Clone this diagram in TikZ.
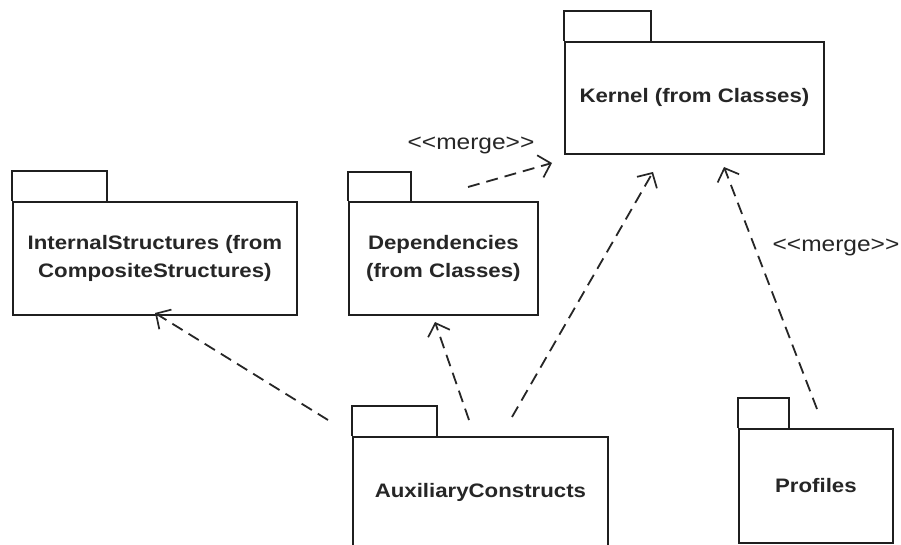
\documentclass[tikz,border=0pt]{standalone}
\usepackage{fontspec}
\setmainfont{Liberation Sans}
\newfontfamily\pkgfont[FakeStretch=1.14]{Liberation Sans}
\usetikzlibrary{arrows.meta}
\begin{document}
\begin{tikzpicture}[x=1pt,y=-1pt,
  pkgbody/.style={draw=black!88, line width=1.8pt, fill=white, anchor=north west,
    inner sep=0pt, align=center, font=\pkgfont\fontsize{19.5}{27.5}\selectfont\bfseries,
    text=black!85},
  pkgtab/.style={draw=black!88, line width=1.8pt},
  mergedep/.style={draw=black!85, line width=1.8pt, dash pattern=on 12pt off 7pt,
    -{Straight Barb[length=11pt,width=23pt,line width=1.7pt]}},
  stereo/.style={font=\pkgfont\fontsize{21.5}{24}\selectfont, text=black!85, inner sep=0pt}]
\useasboundingbox (0,0) rectangle (901,545);
\fill[white] (0,0) rectangle (901,545);

% package bodies
\node[pkgbody, minimum width=259pt, minimum height=112pt] (kernel) at (564,41) {Kernel (from Classes)};
\node[pkgbody, minimum width=284pt, minimum height=113pt] (internal) at (12,201) {InternalStructures (from\\CompositeStructures)};
\node[pkgbody, minimum width=189pt, minimum height=113pt] (deps) at (348,201) {Dependencies\\(from Classes)};
\node[pkgbody, minimum width=255pt, minimum height=112pt] (aux) at (352,436) {AuxiliaryConstructs};
\node[pkgbody, minimum width=154pt, minimum height=114pt] (profiles) at (738,428) {Profiles};

% package tabs
\draw[pkgtab] (kernel.north west) -- ++(0,-30) -- ++(87,0) -- ++(0,30);
\draw[pkgtab] (internal.north west) -- ++(0,-30) -- ++(95,0) -- ++(0,30);
\draw[pkgtab] (deps.north west) -- ++(0,-29) -- ++(63,0) -- ++(0,29);
\draw[pkgtab] (aux.north west) -- ++(0,-30) -- ++(85,0) -- ++(0,30);
\draw[pkgtab] (profiles.north west) -- ++(0,-30) -- ++(51,0) -- ++(0,30);

% dependency end points
\coordinate (auxA) at (328,420);
\coordinate (auxB) at (469,420);
\coordinate (auxC) at (512,417);
\coordinate (profA) at (817,409);
\coordinate (depsA) at (468,187);
\coordinate (internalIn) at (155,313);
\coordinate (depsIn) at (435,322);
\coordinate (kernelInA) at (653,172);
\coordinate (kernelInB) at (724,167);
\coordinate (kernelInC) at (552,163);

% dependencies
\draw[mergedep] (auxA) -- (internalIn);
\draw[mergedep] (auxB) -- (depsIn);
\draw[mergedep] (auxC) -- (kernelInA);
\draw[mergedep] (profA) -- (kernelInB);
\draw[mergedep] (depsA) -- (kernelInC);

% stereotypes
\node[stereo] (merge1) at (471,145) {<<merge>>};
\node[stereo] (merge2) at (836,247) {<<merge>>};
\end{tikzpicture}
\end{document}
